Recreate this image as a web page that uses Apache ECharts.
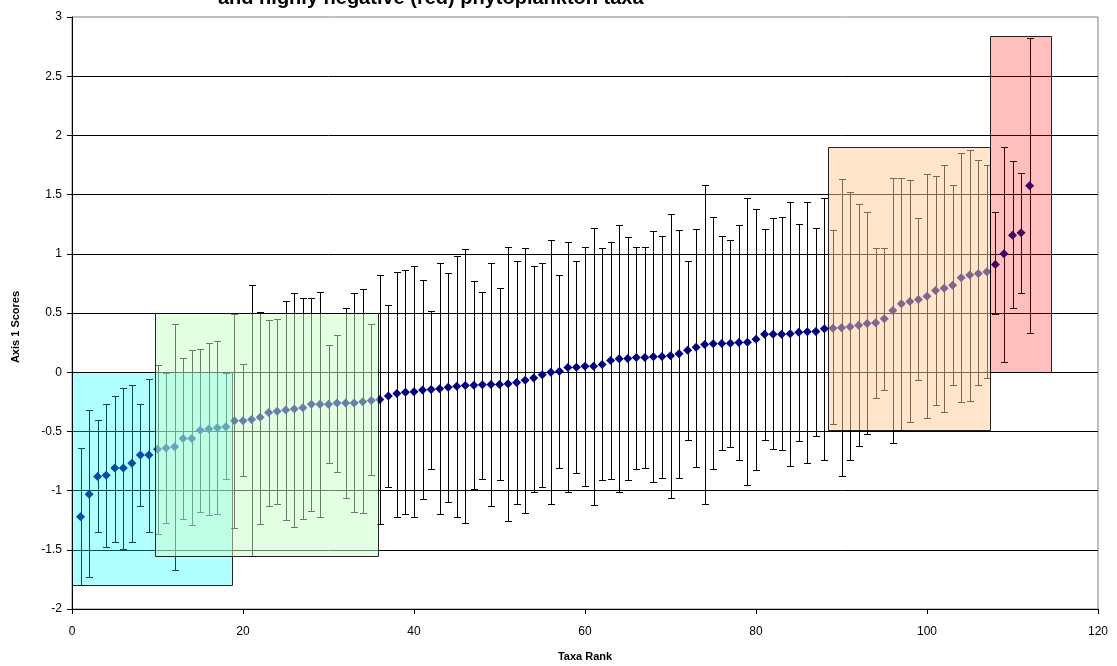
<!DOCTYPE html>
<html>
<head>
<meta charset="utf-8">
<script src="https://cdn.jsdelivr.net/npm/echarts@6/dist/echarts.min.js"></script>
<style>
  html, body { margin: 0; padding: 0; background: #fff; }
  #chart { width: 1117px; height: 666px; }
</style>
</head>
<body>
<div id="chart"></div>
<script>
// Axis 1 scores of phytoplankton taxa, ranked 1..112, with upper / lower error limits
const scores = [
  -1.22, -1.03, -0.88, -0.87, -0.81, -0.81, -0.77, -0.70, -0.70, -0.65,
  -0.64, -0.63, -0.56, -0.56, -0.49, -0.48, -0.47, -0.46, -0.41, -0.41,
  -0.40, -0.38, -0.34, -0.33, -0.32, -0.31, -0.30, -0.27, -0.27, -0.27,
  -0.26, -0.26, -0.26, -0.25, -0.24, -0.23, -0.20, -0.18, -0.17, -0.165,
  -0.15, -0.146, -0.14, -0.127, -0.118, -0.112, -0.11, -0.107, -0.104, -0.104,
  -0.098, -0.087, -0.067, -0.05, -0.022, 0.00, 0.008, 0.04, 0.042, 0.05,
  0.05, 0.065, 0.099, 0.113, 0.116, 0.124, 0.124, 0.13, 0.133, 0.138,
  0.155, 0.186, 0.211, 0.234, 0.24, 0.242, 0.245, 0.251, 0.253, 0.279,
  0.32, 0.32, 0.32, 0.324, 0.338, 0.341, 0.344, 0.366, 0.372, 0.375,
  0.383, 0.397, 0.411, 0.417, 0.451, 0.521, 0.578, 0.597, 0.614, 0.642,
  0.69, 0.709, 0.735, 0.797, 0.82, 0.834, 0.848, 0.91, 1.00, 1.157,
  1.177, 1.574
];
const upper = [
  -0.64, -0.32, -0.40, -0.27, -0.20, -0.13, -0.11, -0.27, -0.06, 0.06,
  -0.01, 0.41, 0.12, 0.19, 0.20, 0.25, 0.26, -0.01, 0.49, 0.07,
  0.74, 0.51, 0.44, 0.45, 0.60, 0.67, 0.63, 0.63, 0.68, 0.23,
  0.31, 0.54, 0.67, 0.70, 0.41, 0.82, 0.57, 0.85, 0.86, 0.90,
  0.78, 0.52, 0.92, 0.84, 0.98, 1.04, 0.77, 0.68, 0.92, 0.71,
  1.06, 0.94, 1.05, 0.90, 0.92, 1.12, 0.82, 1.10, 0.94, 1.06,
  1.22, 1.05, 1.10, 1.24, 1.14, 1.06, 1.06, 1.19, 1.15, 1.34,
  1.20, 0.94, 1.21, 1.58, 1.31, 1.15, 1.12, 1.24, 1.47, 1.38,
  1.21, 1.30, 1.31, 1.44, 1.25, 1.44, 1.22, 1.47, 1.20, 1.63,
  1.52, 1.42, 1.35, 1.05, 1.05, 1.64, 1.64, 1.62, 1.30, 1.67,
  1.66, 1.75, 1.58, 1.85, 1.88, 1.79, 1.75, 1.35, 1.90, 1.78,
  1.68, 2.82
];
const lower = [
  -1.80, -1.73, -1.35, -1.48, -1.43, -1.49, -1.43, -1.13, -1.35, -1.37,
  -1.27, -1.67, -1.24, -1.29, -1.18, -1.21, -1.20, -0.90, -1.32, -0.88,
  -1.55, -1.28, -1.13, -1.11, -1.25, -1.31, -1.24, -1.17, -1.22, -0.77,
  -0.84, -1.06, -1.18, -1.19, -0.87, -1.28, -0.97, -1.22, -1.20, -1.22,
  -1.07, -0.82, -1.20, -1.10, -1.22, -1.27, -0.99, -0.90, -1.13, -0.91,
  -1.26, -1.11, -1.19, -1.01, -0.97, -1.11, -0.81, -1.01, -0.85, -0.96,
  -1.12, -0.91, -0.90, -1.01, -0.91, -0.82, -0.81, -0.93, -0.89, -1.06,
  -0.89, -0.57, -0.80, -1.11, -0.82, -0.66, -0.63, -0.74, -0.95, -0.83,
  -0.57, -0.65, -0.66, -0.79, -0.58, -0.77, -0.54, -0.74, -0.44, -0.88,
  -0.74, -0.62, -0.52, -0.22, -0.15, -0.60, -0.49, -0.42, -0.07, -0.39,
  -0.28, -0.34, -0.11, -0.255, -0.24, -0.11, -0.05, 0.49, 0.09, 0.54,
  0.67, 0.33
];

// Highlighted groups of taxa: rank range and score range of each box
const boxRankFrom  = [0, 9.7, 88.4, 107.4];
const boxRankTo    = [18.7, 35.8, 107.4, 114.5];
const boxScoreLow  = [-1.80, -1.55, -0.49, 0.0];
const boxScoreHigh = [0.0, 0.5, 1.90, 2.84];
const boxFills = [
  'rgba(0,255,255,0.30)',
  'rgba(204,255,204,0.50)',
  'rgba(255,204,153,0.50)',
  'rgba(255,0,0,0.25)'
];

const xTicks = { min: 0, max: 120, interval: 20 };
const yTicks = { min: -2, max: 3, interval: 0.5 };

const titleText = 'and highly negative (red) phytoplankton taxa';
const xName = 'Taxa Rank';
const yName = 'Axis 1 Scores';

const FONT = 'Arial, "Liberation Sans", sans-serif';

const points = scores.map((v, i) => [i + 1, v]);
const bars = scores.map((v, i) => [i + 1, lower[i], upper[i]]);
const boxes = boxRankFrom.map((x0, i) => [x0, boxRankTo[i], boxScoreLow[i], boxScoreHigh[i]]);

const chart = echarts.init(document.getElementById('chart'), null, { renderer: 'canvas' });

chart.setOption({
  animation: false,
  backgroundColor: '#fff',
  grid: {
    left: 72, right: 19, top: 17, bottom: 57,
    show: true, borderColor: '#808080', borderWidth: 1
  },
  graphic: [
    {
      type: 'text', left: 218, top: -12, silent: true,
      style: { text: titleText, font: 'bold 20px ' + FONT, fill: '#000' }
    },
    {
      type: 'text', x: 585, y: 657, silent: true,
      style: { text: xName, font: 'bold 11px ' + FONT, fill: '#000', align: 'center', verticalAlign: 'middle' }
    },
    {
      type: 'text', x: 16, y: 327, rotation: Math.PI / 2, silent: true,
      style: { text: yName, font: 'bold 11px ' + FONT, fill: '#000', align: 'center', verticalAlign: 'middle' }
    }
  ],
  xAxis: {
    type: 'value',
    min: xTicks.min, max: xTicks.max, interval: xTicks.interval,
    axisLine: { show: true, onZero: false, lineStyle: { color: '#000', width: 1 } },
    axisTick: { show: true, inside: false, length: 5, lineStyle: { color: '#000' } },
    axisLabel: { color: '#000', fontSize: 12, fontFamily: FONT, margin: 17 },
    splitLine: { show: false }
  },
  yAxis: {
    type: 'value',
    min: yTicks.min, max: yTicks.max, interval: yTicks.interval,
    axisLine: { show: true, onZero: false, lineStyle: { color: '#000', width: 1 } },
    axisTick: { show: true, inside: false, length: 5, lineStyle: { color: '#000' } },
    axisLabel: { color: '#000', fontSize: 12, fontFamily: FONT, margin: 10 },
    splitLine: { show: true, showMaxLine: false, lineStyle: { color: '#000', width: 1 } }
  },
  series: [
    {
      // vertical error bars with caps
      type: 'custom',
      z: 2,
      silent: true,
      data: bars,
      renderItem: function (params, api) {
        const x = api.value(0);
        const pLo = api.coord([x, api.value(1)]);
        const pHi = api.coord([x, api.value(2)]);
        const cx = Math.round(pLo[0]) + 0.5;
        const yLo = Math.round(pLo[1]) + 0.5;
        const yHi = Math.round(pHi[1]) + 0.5;
        const cap = 3.5;
        const st = { stroke: '#000', lineWidth: 1 };
        return {
          type: 'group',
          children: [
            { type: 'line', shape: { x1: cx, y1: yHi, x2: cx, y2: yLo }, style: st },
            { type: 'line', shape: { x1: cx - cap, y1: yHi, x2: cx + cap, y2: yHi }, style: st },
            { type: 'line', shape: { x1: cx - cap, y1: yLo, x2: cx + cap, y2: yLo }, style: st }
          ]
        };
      }
    },
    {
      type: 'scatter',
      z: 3,
      silent: true,
      symbol: 'diamond',
      symbolSize: 9,
      itemStyle: { color: '#000080', opacity: 1 },
      data: points
    },
    {
      // translucent boxes over the highlighted taxa groups
      type: 'custom',
      z: 4,
      silent: true,
      clip: false,
      data: boxes,
      renderItem: function (params, api) {
        const tl = api.coord([api.value(0), api.value(3)]);
        const br = api.coord([api.value(1), api.value(2)]);
        const x = Math.round(tl[0]) + 0.5;
        const y = Math.round(tl[1]) + 0.5;
        return {
          type: 'rect',
          shape: { x: x, y: y, width: Math.round(br[0]) - Math.round(tl[0]), height: Math.round(br[1]) - Math.round(tl[1]) },
          style: { fill: boxFills[params.dataIndex], stroke: 'rgba(0,0,0,0.85)', lineWidth: 1 }
        };
      }
    }
  ]
});
</script>
</body>
</html>
